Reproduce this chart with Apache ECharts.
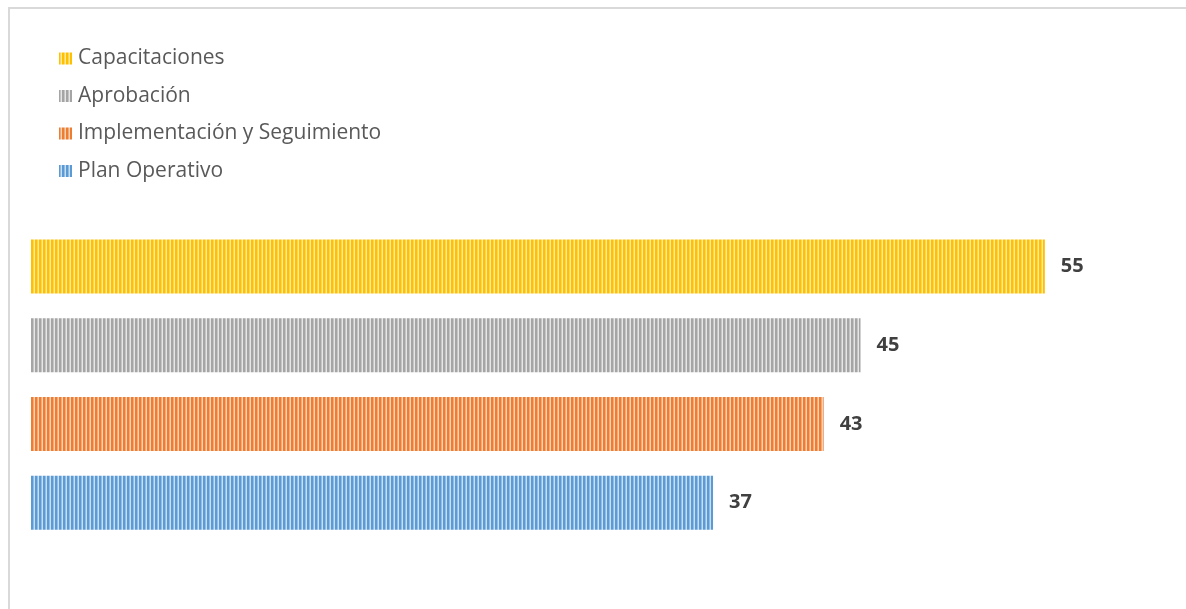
<!DOCTYPE html>
<html>
<head>
<meta charset="utf-8">
<script src="https://cdn.jsdelivr.net/npm/echarts@6/dist/echarts.min.js"></script>
<style>
html,body{margin:0;padding:0;background:#fff;}
#c{width:1186px;height:609px;}
</style>
</head>
<body>
<div id="c"></div>
<script>
const categories = ['Plan Operativo', 'Implementación y Seguimiento', 'Aprobación', 'Capacitaciones'];
const values = [37, 43, 45, 55];
const legendOrder = ['Capacitaciones', 'Aprobación', 'Implementación y Seguimiento', 'Plan Operativo'];
const baseColors = ['#5B9BD5', '#ED7D31', '#A5A5A5', '#FFC000'];
const lightColors = ['#C9DEF2', '#F9D3B9', '#E6E6E6', '#FFE9A6'];

function stripe(base, light) {
  const c = document.createElement('canvas');
  c.width = 4; c.height = 4;
  const g = c.getContext('2d');
  g.fillStyle = base; g.fillRect(0, 0, 4, 4);
  g.fillStyle = light; g.fillRect(2, 0, 1, 4);
  g.globalAlpha = 0.5; g.fillRect(1, 0, 1, 4);
  return { image: c, repeat: 'repeat' };
}

const chart = echarts.init(document.getElementById('c'));
const series = categories.map((name, i) => ({
  name: name,
  type: 'bar',
  stack: 'all',
  barWidth: 54,
  data: categories.map((_, j) => (j === i ? values[i] : null)),
  itemStyle: { color: stripe(baseColors[i], lightColors[i]) },
  label: {
    show: true,
    position: 'right',
    distance: 16,
    formatter: p => (p.value == null ? '' : p.value),
    color: '#404040',
    fontWeight: 'bold',
    fontSize: 20,
    fontFamily: 'Open Sans'
  }
}));

chart.setOption({
  animation: false,
  backgroundColor: '#fff',
  graphic: [{
    type: 'rect',
    shape: { x: 9, y: 8, width: 1300, height: 800 },
    style: { fill: 'none', stroke: '#D9D9D9', lineWidth: 2 },
    z: -1
  }],
  legend: {
    data: legendOrder,
    icon: 'rect',
    orient: 'vertical',
    left: 54,
    top: 43,
    itemWidth: 13,
    itemHeight: 12,
    itemGap: 16.5,
    textStyle: { color: '#595959', fontSize: 21, fontFamily: 'Open Sans', padding: [0, 0, 0, 1] }
  },
  grid: { left: 31, top: 227, width: 1106, height: 315, containLabel: false },
  xAxis: {
    type: 'value', min: 0, max: 60, show: false
  },
  yAxis: {
    type: 'category', data: categories, show: false
  },
  series: series
});
</script>
</body>
</html>
